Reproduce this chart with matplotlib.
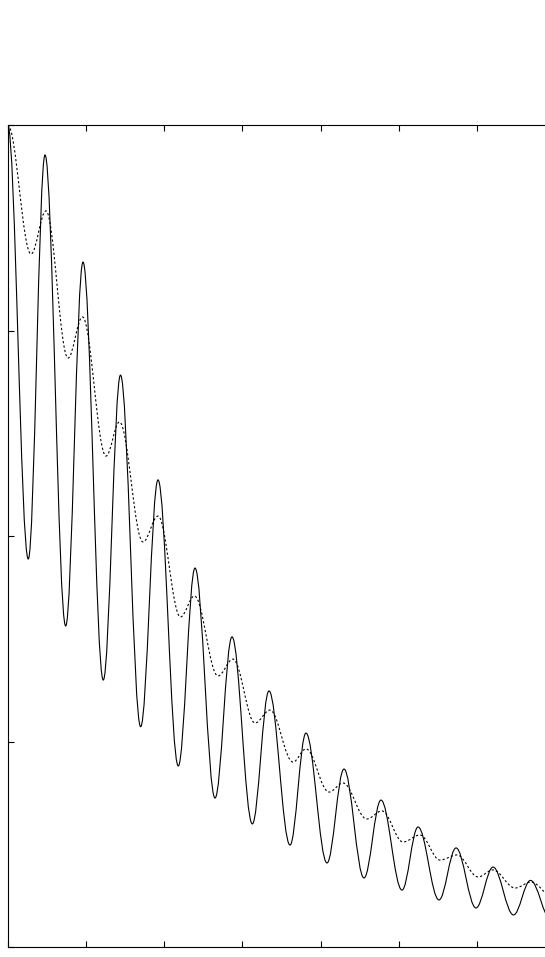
import matplotlib
matplotlib.use("Agg")
import matplotlib.pyplot as plt
from matplotlib.path import Path
from matplotlib.patches import PathPatch

# turning points (peaks / troughs)
solid_x = [0.000, 0.262, 0.476, 0.740, 0.962, 1.221, 1.441, 1.699, 1.921, 2.180,
           2.394, 2.650, 2.867, 3.127, 3.340, 3.609, 3.813, 4.082, 4.299, 4.555,
           4.772, 5.041, 5.246, 5.514, 5.732, 5.987, 6.205, 6.467, 6.684, 6.946]
solid_y = [4.000, 1.888, 3.854, 1.562, 3.333, 1.299, 2.783, 1.072, 2.273, 0.881,
           1.844, 0.725, 1.509, 0.599, 1.246, 0.496, 1.041, 0.409, 0.866, 0.336,
           0.715, 0.277, 0.584, 0.229, 0.482, 0.190, 0.389, 0.156, 0.324, 0.131]

dashed_x = [0.000, 0.297, 0.488, 0.770, 0.955, 1.256, 1.428, 1.729, 1.921, 2.208,
            2.387, 2.688, 2.880, 3.161, 3.353, 3.647, 3.813, 4.107, 4.287, 4.590,
            4.785, 5.054, 5.271, 5.527, 5.744, 6.013, 6.205, 6.486, 6.691, 6.972]
dashed_y = [4.000, 3.372, 3.582, 2.866, 3.066, 2.389, 2.555, 1.971, 2.097, 1.606,
            1.708, 1.319, 1.401, 1.090, 1.153, 0.900, 0.964, 0.754, 0.798, 0.623,
            0.662, 0.511, 0.545, 0.423, 0.448, 0.341, 0.375, 0.287, 0.316, 0.243]

x_ticks = [0, 1, 2, 3, 4, 5, 6, 7]
y_ticks = [0, 1, 2, 3, 4]


def smooth_path(xs, ys, k=0.363):
    # cubic segments with flat tangents at every turning point
    verts = [(xs[0], ys[0])]
    codes = [Path.MOVETO]
    for i in range(len(xs) - 1):
        dx = xs[i + 1] - xs[i]
        verts += [(xs[i] + k * dx, ys[i]),
                  (xs[i + 1] - k * dx, ys[i + 1]),
                  (xs[i + 1], ys[i + 1])]
        codes += [Path.CURVE4] * 3
    return Path(verts, codes)


fig = plt.figure(figsize=(5.45, 9.57), dpi=100)
ax = fig.add_axes([7.8 / 545, 10 / 957, 547.4 / 545, 822 / 957])

ax.add_patch(PathPatch(smooth_path(solid_x, solid_y), fill=False,
                       edgecolor="black", lw=0.8))
ax.add_patch(PathPatch(smooth_path(dashed_x, dashed_y), fill=False,
                       edgecolor="black", lw=0.8, linestyle=(0, (2, 2))))

ax.set_xlim(0, 7)
ax.set_ylim(0, 4)
ax.set_xticks(x_ticks)
ax.set_yticks(y_ticks)
ax.set_xticklabels([])
ax.set_yticklabels([])
ax.tick_params(direction="in", top=True, right=True, length=4, width=0.8)
for s in ax.spines.values():
    s.set_linewidth(0.8)

fig.savefig("out.png", dpi=100)
